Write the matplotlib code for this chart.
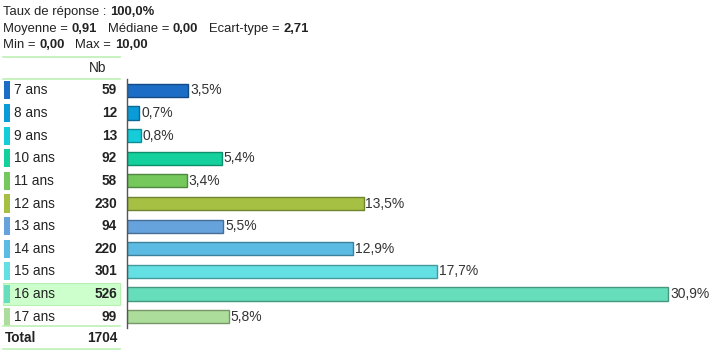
import matplotlib.pyplot as plt
from matplotlib.patches import Rectangle
from matplotlib.transforms import blended_transform_factory

plt.rcParams['font.family'] = ['Liberation Sans', 'DejaVu Sans']

labels = ['7 ans', '8 ans', '9 ans', '10 ans', '11 ans', '12 ans', '13 ans',
          '14 ans', '15 ans', '16 ans', '17 ans']
counts = [59, 12, 13, 92, 58, 230, 94, 220, 301, 526, 99]
pcts = [3.5, 0.7, 0.8, 5.4, 3.4, 13.5, 5.5, 12.9, 17.7, 30.9, 5.8]
total = 1704
colors = ['#1c6dc6', '#0a9bd9', '#14cdd9', '#14d09c', '#74c85c', '#a5c043',
          '#66a2dc', '#5bbbe2', '#64e0e5', '#66ddbb', '#addd9a']
edges = ['#134a86', '#0a6a94', '#0e8c94', '#0e8e6a', '#4f883f', '#70832e',
         '#456e96', '#3e809a', '#44999c', '#45977f', '#76976a']
highlight = 9

W, H = 712, 353
fig = plt.figure(figsize=(W / 100, H / 100), dpi=100)

def fx(x):
    return x / W

def fy(y):
    return 1 - y / H

# bar axes
ax = fig.add_axes([fx(127), fy(328), fx(580), (328 - 79) / H])
ypos = list(range(len(labels)))
ax.barh(ypos, pcts, height=0.58, color=colors, edgecolor=edges, linewidth=1)
for y, p in zip(ypos, pcts):
    ax.text(p + 0.1, y, ('%.1f%%' % p).replace('.', ','), va='center',
            ha='left', fontsize=10, color='#333333')
ax.set_xlim(0, 33.1)
ax.set_ylim(10.5, -0.5)
for s in ['top', 'right', 'bottom']:
    ax.spines[s].set_visible(False)
ax.spines['left'].set_color('#555555')
ax.spines['left'].set_linewidth(1)
ax.set_xticks([])
ax.set_yticks([])

# header
fs = 9.4
t = fig.text(fx(3), fy(12), 'Taux de réponse : ', fontsize=fs, va='center', color='#222222')
fig.canvas.draw()
r = fig.canvas.get_renderer()
def after(txt, s, **kw):
    bb = txt.get_window_extent(r)
    return fig.text(bb.x1 / W, txt.get_position()[1], s, fontsize=fs, va='center',
                    color='#222222', **kw)

after(t, '100,0%', weight='bold')
parts = [('Moyenne = ', False), ('0,91', True), ('   Médiane = ', False), ('0,00', True),
         ('   Ecart-type = ', False), ('2,71', True)]
cur = fig.text(fx(3), fy(29), parts[0][0], fontsize=fs, va='center', color='#222222')
for s, b in parts[1:]:
    cur = after(cur, s, weight='bold' if b else 'normal')
parts = [('Min = ', False), ('0,00', True), ('   Max = ', False), ('10,00', True)]
cur = fig.text(fx(3), fy(45), parts[0][0], fontsize=fs, va='center', color='#222222')
for s, b in parts[1:]:
    cur = after(cur, s, weight='bold' if b else 'normal')

# table on the left
fs2 = 9.8
green = '#bdf0b4'
for y in [57, 79, 326, 349]:
    fig.add_artist(plt.Line2D([fx(3), fx(120)], [fy(y), fy(y)], color=green, lw=1.2))
fig.text(fx(98), fy(68), 'Nb', fontsize=fs2, ha='center', va='center', color='#222222')

tr = blended_transform_factory(fig.transFigure, ax.transData)
ax.add_artist(Rectangle((fx(3), highlight - 0.5), fx(117), 1.0, transform=tr,
                        facecolor='#ccffcc', edgecolor='#b8f0b0', lw=0.8, clip_on=False, zorder=0))
for y, lab, c, col in zip(ypos, labels, counts, colors):
    ax.add_artist(Rectangle((fx(4), y - 0.4), fx(6), 0.8, transform=tr,
                            facecolor=col, edgecolor='none', clip_on=False))
    ax.text(fx(14), y, lab, transform=tr, fontsize=fs2, va='center', ha='left', color='#222222')
    ax.text(fx(117), y, str(c), transform=tr, fontsize=fs2, va='center', ha='right',
            weight='bold', color='#222222')

fig.text(fx(5), fy(338), 'Total', fontsize=fs2, weight='bold', va='center', color='#222222')
fig.text(fx(117), fy(338), str(total), fontsize=fs2, weight='bold', va='center', ha='right',
         color='#222222')

fig.savefig('out.png', dpi=100)
